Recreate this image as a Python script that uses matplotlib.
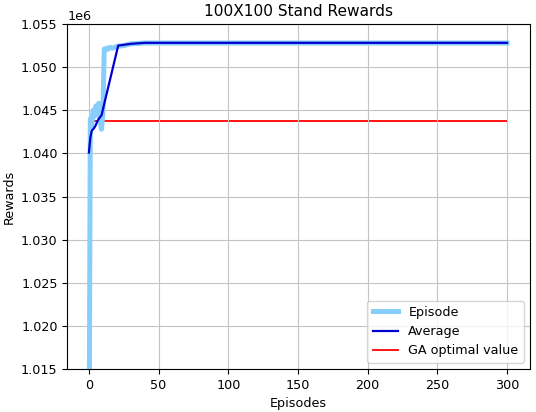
import matplotlib
import matplotlib.pyplot as plt

matplotlib.use("Agg")

# Episode rewards (sparse points where the curve bends; flat after ~40)
episode_x = [0, 1, 2, 3, 4, 5, 6, 7, 8, 9, 10, 11, 12, 13, 14, 15, 17, 20, 25, 30, 40, 300]
episode_y = [1.0000e6, 1.0440e6, 1.0432e6, 1.0450e6, 1.0443e6, 1.0455e6, 1.0447e6,
             1.0458e6, 1.0440e6, 1.0428e6, 1.0446e6, 1.0521e6, 1.0520e6, 1.0522e6,
             1.0521e6, 1.0523e6, 1.0522e6, 1.0524e6, 1.0525e6, 1.0527e6, 1.0528e6,
             1.0528e6]

# Running average
average_x = [0, 1, 2, 3, 4, 5, 6, 7, 8, 9, 21, 30, 40, 300]
average_y = [1.0401e6, 1.0418e6, 1.0426e6, 1.0428e6, 1.0430e6, 1.0433e6, 1.0437e6,
             1.0440e6, 1.0442e6, 1.0444e6, 1.0525e6, 1.0527e6, 1.05282e6, 1.05282e6]

ga_x = [0, 300]
ga_y = [1.04376e6, 1.04376e6]

plt.rcParams["font.size"] = 9.2
plt.rcParams["grid.color"] = "#c4c4c4"

fig = plt.figure(figsize=(5.36, 4.12), dpi=100)
ax = fig.add_axes([0.1256, 0.1044, 0.8632, 0.8373])

ep_line, = ax.plot(episode_x, episode_y, color="lightskyblue", linewidth=3.6,
                   label="Episode", zorder=2)
avg_line, = ax.plot(average_x, average_y, color="mediumblue", linewidth=1.6,
                    label="Average", zorder=3)
ga_line, = ax.plot(ga_x, ga_y, color="red", linewidth=1.3,
                   label="GA optimal value", zorder=1.5)

ax.set_xlim(-15.5, 316.5)
ax.set_ylim(1.015e6, 1.055e6)
ax.set_title("100X100 Stand Rewards")
ax.set_xlabel("Episodes")
ax.set_ylabel("Rewards")
ax.grid(True)
ax.legend(handles=[ep_line, avg_line, ga_line], loc="lower right")

fig.savefig("out.png", dpi=100)
plt.close(fig)
